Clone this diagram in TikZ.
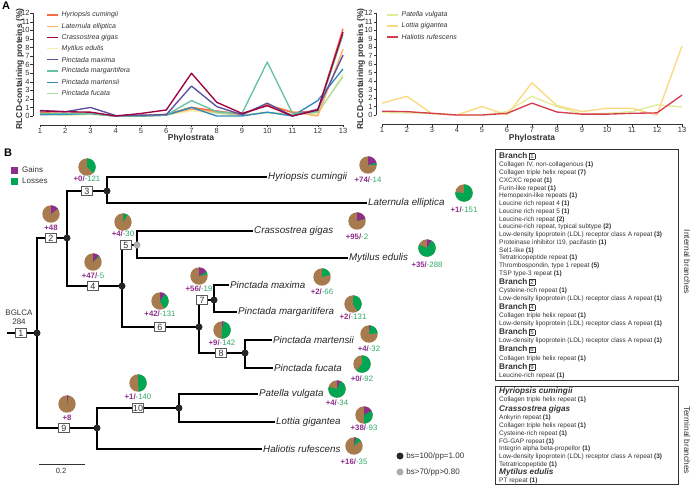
\documentclass[tikz,border=0pt]{standalone}
\usepackage{fontspec}
\setmainfont{Liberation Sans}
\usetikzlibrary{positioning}
\definecolor{gaincol}{HTML}{8E2D8C}
\definecolor{losscol}{HTML}{00A651}
\definecolor{losstxt}{HTML}{2FA866}
\definecolor{restcol}{HTML}{A87B4F}
\definecolor{txtgray}{HTML}{333333}
\definecolor{spHc}{HTML}{F46D43}
\definecolor{spLe}{HTML}{FDAE61}
\definecolor{spCg}{HTML}{9E0142}
\definecolor{spMe}{HTML}{F8EFA6}
\definecolor{spPx}{HTML}{5E4FA2}
\definecolor{spPg}{HTML}{66C2A5}
\definecolor{spPm}{HTML}{3288BD}
\definecolor{spPf}{HTML}{ABDDA4}
\definecolor{spPv}{HTML}{E3EC98}
\definecolor{spLg}{HTML}{FBD982}
\definecolor{spHr}{HTML}{D53E4F}
\newcommand{\gainloss}[2]{{\color{gaincol}\bfseries+#1/}{\color{losstxt}-#2}}
\newcommand{\gainonly}[1]{{\color{gaincol}\bfseries+#1}}
\newcommand{\brnum}[1]{{\setlength{\fboxsep}{0.5pt}\setlength{\fboxrule}{0.5pt}\fbox{\fontsize{6}{6}\selectfont\makebox[4.2pt]{#1}}}}
\newcommand{\brhead}[1]{{\fontsize{8.2}{8}\selectfont\bfseries Branch\,}\brnum{#1}}
\newcommand{\sphead}[1]{{\fontsize{8.2}{8}\selectfont\bfseries\itshape #1}}
\newcommand{\repcnt}[1]{\textbf{(#1)}}

\begin{document}
\begin{tikzpicture}[x=1pt,y=-1pt,
  ser/.style={line width=1.35pt, line join=round},
  axline/.style={line width=0.5pt, txtgray},
  ticklab/.style={font=\fontsize{7.5}{7.5}\selectfont, text=txtgray, inner sep=0.6pt},
  axtitle/.style={font=\fontsize{8.5}{8.5}\selectfont\bfseries, text=txtgray, inner sep=0pt},
  legtext/.style={font=\fontsize{7}{7}\selectfont\itshape, text=txtgray, inner sep=0pt},
  panlab/.style={font=\fontsize{11}{11}\selectfont\bfseries, inner sep=0pt},
  branch/.style={line width=1.7pt},
  bsdot/.style={circle, fill=black!85, inner sep=0pt, minimum size=7pt},
  ppdot/.style={circle, fill=gray!65, inner sep=0pt, minimum size=7pt},
  numbox/.style={draw=gray!70!black, fill=white, line width=0.6pt, inner sep=0pt,
    minimum width=11pt, minimum height=9pt, font=\fontsize{9}{9}\selectfont, text=txtgray},
  leaf/.style={anchor=west, inner sep=1pt, font=\fontsize{9.8}{9.8}\selectfont\itshape, text=black!85},
  pielab/.style={inner sep=0pt, font=\fontsize{7.8}{7.8}\selectfont},
  legsmall/.style={font=\fontsize{8}{8}\selectfont, text=txtgray, anchor=west, inner sep=0pt},
  panel/.style={draw=txtgray, line width=0.7pt},
  listbox/.style={align=left, anchor=north west, inner sep=0pt, text=txtgray,
    font=\fontsize{6.5}{7.75}\selectfont},
  sidelab/.style={font=\fontsize{8.3}{8.3}\selectfont, text=txtgray, rotate=-90, inner sep=0pt}]
\useasboundingbox (0,0) rectangle (690,488);

% ---- panel A, left chart
\node[panlab] (panA) at (6,6) {A};
\begin{scope}[shift={(14.75,116)}, x=25.25pt, y=8.56pt]
  \draw[axline] (0.72,0) -- (0.72,12);
  \foreach \v in {0,...,12}
    \draw[axline] (0.72,\v) -- ++(-2.5pt,0pt) node[left, ticklab] (ayl\v) {\v};
  \draw[axline] (1,-1.05) -- (13,-1.05);
  \foreach \k in {1,...,13}
    \draw[axline] (\k,-1.05) -- ++(0pt,-2.5pt) node[below, ticklab] (axl\k) {\k};
  \draw[ser, spMe] plot coordinates {(1,0.2) (2,0.1) (3,0.2) (4,0) (5,0) (6,0.1) (7,0.6) (8,0.3) (9,0.1) (10,0.4) (11,0.3) (12,0.2) (13,4.9)};
  \draw[ser, spPf] plot coordinates {(1,0.2) (2,0.15) (3,0.2) (4,0) (5,0) (6,0.1) (7,1.05) (8,0.35) (9,0.1) (10,0.4) (11,0.15) (12,0.4) (13,4.6)};
  \draw[ser, spLe] plot coordinates {(1,0.3) (2,0.3) (3,0.4) (4,0) (5,0.1) (6,0.2) (7,0.8) (8,0.5) (9,0.2) (10,1.3) (11,0.5) (12,0) (13,7.8)};
  \draw[ser, spHc] plot coordinates {(1,0.4) (2,0.3) (3,0.3) (4,0) (5,0) (6,0.2) (7,1.0) (8,0.6) (9,0.2) (10,1.3) (11,0.4) (12,0.6) (13,10.2)};
  \draw[ser, spPm] plot coordinates {(1,0.15) (2,0.2) (3,0.3) (4,0) (5,0) (6,0.1) (7,1.0) (8,0) (9,0) (10,0.45) (11,0) (12,1.8) (13,5.5)};
  \draw[ser, spPg] plot coordinates {(1,0.3) (2,0.3) (3,0.3) (4,0) (5,0) (6,0.1) (7,1.8) (8,0.5) (9,0.3) (10,6.3) (11,0.3) (12,0.5) (13,9.5)};
  \draw[ser, spPx] plot coordinates {(1,0.65) (2,0.5) (3,1.0) (4,0.05) (5,0.1) (6,0.15) (7,3.5) (8,1.1) (9,0.15) (10,1.5) (11,0) (12,0.8) (13,7.1)};
  \draw[ser, spCg] plot coordinates {(1,0.6) (2,0.5) (3,0.45) (4,0) (5,0.3) (6,0.7) (7,5.0) (8,1.6) (9,0.3) (10,1.2) (11,0) (12,0.7) (13,9.8)};
\end{scope}
\node[axtitle, rotate=90] (ytitA) at (20,69) {RLCD-containing proteins (\%)};
\node[axtitle] (xtitA) at (191,138.5) {Phylostrata};
\foreach \c/\t [count=\i] in {spHc/Hyriopsis cumingii, spLe/Laternula elliptica,
    spCg/Crassostrea gigas, spMe/Mytilus edulis, spPx/Pinctada maxima,
    spPg/Pinctada margaritifera, spPm/Pinctada martensii, spPf/Pinctada fucata}
  \draw[ser, \c] (47,{15+11.2*(\i-1)}) -- (58,{15+11.2*(\i-1)})
    node[legtext, right=3pt] (legA\i) {\t};

% ---- panel A, right chart
\begin{scope}[shift={(357,115)}, x=25pt, y=8.47pt]
  \draw[axline] (0.76,0) -- (0.76,12);
  \foreach \v in {0,...,12}
    \draw[axline] (0.76,\v) -- ++(-2.5pt,0pt) node[left, ticklab] (byl\v) {\v};
  \draw[axline] (1,-1.1) -- (13,-1.1);
  \foreach \k in {1,...,13}
    \draw[axline] (\k,-1.1) -- ++(0pt,-2.5pt) node[below, ticklab] (bxl\k) {\k};
  \draw[ser, spPv] plot coordinates {(1,0.3) (2,0.25) (3,0.2) (4,0) (5,0) (6,0.4) (7,2.2) (8,1.0) (9,0.1) (10,0.2) (11,0.4) (12,1.2) (13,0.95)};
  \draw[ser, spLg] plot coordinates {(1,1.4) (2,2.2) (3,0.15) (4,0) (5,1.0) (6,0) (7,3.8) (8,1.1) (9,0.4) (10,0.8) (11,0.8) (12,0) (13,8.15)};
  \draw[ser, spHr] plot coordinates {(1,0.45) (2,0.4) (3,0.2) (4,0) (5,0) (6,0.2) (7,1.4) (8,0.35) (9,0.1) (10,0.1) (11,0.2) (12,0.25) (13,2.35)};
\end{scope}
\node[axtitle, rotate=90] (ytitB) at (361,69) {RLCD-containing proteins (\%)};
\node[axtitle] (xtitB) at (532,138.5) {Phylostrata};
\foreach \c/\t [count=\i] in {spPv/Patella vulgata, spLg/Lottia gigantea, spHr/Haliotis rufescens}
  \draw[ser, \c] (387,{15+11*(\i-1)}) -- (398,{15+11*(\i-1)})
    node[legtext, right=3pt] (legB\i) {\t};

% ---- panel B, tree
\node[panlab] (panB) at (8,153) {B};
\fill[gaincol] (11,166.5) rectangle ++(7,7);
\fill[losscol] (11,177.5) rectangle ++(7,7);
\node[legsmall] (keygain) at (22,170) {Gains};
\node[legsmall] (keyloss) at (22,181) {Losses};

\coordinate (root) at (7,333);
\coordinate (n1) at (37,333);
\coordinate (n2) at (67,238);
\coordinate (n3) at (107,191);
\coordinate (n4) at (122,286);
\coordinate (n5) at (137,245);
\coordinate (n6) at (199,327);
\coordinate (n7) at (214,300);
\coordinate (n8) at (245,353);
\coordinate (n9) at (97,428);
\coordinate (n10) at (179,408);

\node[leaf] (hcum) at (267,177) {Hyriopsis cumingii};
\node[leaf] (lell) at (367,203) {Laternula elliptica};
\node[leaf] (cgig) at (253,231) {Crassostrea gigas};
\node[leaf] (medu) at (348,258) {Mytilus edulis};
\node[leaf] (pmax) at (229,285) {Pinctada maxima};
\node[leaf] (pmar) at (237,312) {Pinctada margaritifera};
\node[leaf] (pmrt) at (272,340) {Pinctada martensii};
\node[leaf] (pfuc) at (273,368) {Pinctada fucata};
\node[leaf] (pvul) at (258,394) {Patella vulgata};
\node[leaf] (lgig) at (275,422) {Lottia gigantea};
\node[leaf] (hruf) at (262,449) {Haliotis rufescens};

\draw[branch] (root) -- (n1);
\draw[branch] (n1) |- (n2);
\draw[branch] (n1) |- (n9);
\draw[branch] (n2) |- (n3);
\draw[branch] (n2) |- (n4);
\draw[branch] (n3) |- (hcum.west);
\draw[branch] (n3) |- (lell.west);
\draw[branch] (n4) |- (n5);
\draw[branch] (n4) |- (n6);
\draw[branch] (n5) |- (cgig.west);
\draw[branch] (n5) |- (medu.west);
\draw[branch] (n6) |- (n7);
\draw[branch] (n6) |- (n8);
\draw[branch] (n7) |- (pmax.west);
\draw[branch] (n7) |- (pmar.west);
\draw[branch] (n8) |- (pmrt.west);
\draw[branch] (n8) |- (pfuc.west);
\draw[branch] (n9) |- (n10);
\draw[branch] (n9) |- (hruf.west);
\draw[branch] (n10) |- (pvul.west);
\draw[branch] (n10) |- (lgig.west);

\foreach \n in {1,2,3,4,6,7,8,9,10}
  \node[bsdot] (dot\n) at (n\n) {};
\node[ppdot] (dot5) at (n5) {};

\foreach \n/\x/\y in {1/21/333, 2/51/238, 3/87/191, 4/93/286, 5/126/245,
    6/160/327, 7/202/300, 8/221/353, 9/64/428, 10/138/408}
  \node[numbox] (box\n) at (\x,\y) {\n};

\node[legsmall, anchor=center, align=center, font=\fontsize{8}{9.5}\selectfont] (bglca) at (19,317) {BGLCA\\284};

% gains / losses pies
\foreach \px/\py/\gf/\lf/\ly/\txt [count=\i] in {
    51/214/14.5/0.01/228/{\gainonly{48}},
    87/167/0.01/37/179/{\gainloss{0}{121}},
    93/262/12.4/1.3/276/{\gainloss{47}{5}},
    123/222/1/8/234/{\gainloss{4}{30}},
    160/301/10/31.5/314/{\gainloss{42}{131}},
    199/276/16.4/5.6/289/{\gainloss{56}{19}},
    222/330/3/48/343/{\gainloss{9}{142}},
    67/404/2.7/0.01/418/{\gainonly{8}},
    138/383/0.5/48/397/{\gainloss{1}{140}},
    368/165/21/4.5/180/{\gainloss{74}{14}},
    464/193/0.5/76/210/{\gainloss{1}{151}},
    357/221/21/0.5/237/{\gainloss{95}{2}},
    427/248/9/72/265/{\gainloss{35}{288}},
    322/277/0.6/20/292/{\gainloss{2}{66}},
    353/304/0.6/40/317/{\gainloss{2}{131}},
    369/334/2.5/21/349/{\gainloss{4}{32}},
    362/364/0.01/61/379/{\gainloss{0}{92}},
    337/389/7/72/403/{\gainloss{4}{34}},
    364/415/17/33/428/{\gainloss{38}{93}},
    354/446/4/10/462/{\gainloss{16}{35}}} {
  \fill[restcol] (\px,\py) circle (8.7pt);
  \fill[gaincol] (\px,\py) -- ++(90:8.7pt)
    arc[start angle=90, delta angle={-3.6*\gf}, radius=8.7pt] -- cycle;
  \fill[losscol] (\px,\py) -- ++({90-3.6*\gf}:8.7pt)
    arc[start angle={90-3.6*\gf}, delta angle={-3.6*\lf}, radius=8.7pt] -- cycle;
  \node[pielab] (pie\i) at (\px,\ly) {\txt};
}

% scale bar and support key
\draw[line width=1pt, txtgray] (39,464) -- (85,464);
\node[legsmall, anchor=center, font=\fontsize{7.5}{7.5}\selectfont] (scalelab) at (61,471) {0.2};
\node[bsdot] (keybs) at (400,456) {};
\node[legsmall, right=2.5pt of keybs] (keybstxt) {bs=100/pp=1.00};
\node[ppdot] (keypp) at (400,472) {};
\node[legsmall, right=2.5pt of keypp] (keypptxt) {bs>70/pp>0.80};

% ---- domain lists
\draw[panel] (495,149) rectangle (678,380);
\draw[panel] (495,386) rectangle (678,484);
\node[listbox] (intlist) at (499,152.4) {%
  \brhead{1}\\[0.55pt]
  Collagen IV, non-collagenous \repcnt{1}\\
  Collagen triple helix repeat \repcnt{7}\\
  CXCXC repeat \repcnt{1}\\
  Furin-like repeat \repcnt{1}\\
  Hemopexin-like repeats \repcnt{1}\\
  Leucine rich repeat 4 \repcnt{1}\\
  Leucine rich repeat 5 \repcnt{1}\\
  Leucine-rich repeat \repcnt{2}\\
  Leucine-rich repeat, typical subtype \repcnt{2}\\
  Low-density lipoprotein (LDL) receptor class A repeat \repcnt{3}\\
  Proteinase inhibitor I19, pacifastin \repcnt{1}\\
  Sel1-like \repcnt{1}\\
  Tetratricopeptide repeat \repcnt{1}\\
  Thrombospondin, type 1 repeat \repcnt{5}\\
  TSP type-3 repeat \repcnt{1}\\[1.25pt]
  \brhead{2}\\[0.55pt]
  Cysteine-rich repeat \repcnt{1}\\
  Low-density lipoprotein (LDL) receptor class A repeat \repcnt{1}\\[1.25pt]
  \brhead{4}\\[0.55pt]
  Collagen triple helix repeat \repcnt{1}\\
  Low-density lipoprotein (LDL) receptor class A repeat \repcnt{1}\\[1.25pt]
  \brhead{5}\\[0.55pt]
  Low-density lipoprotein (LDL) receptor class A repeat \repcnt{1}\\[1.25pt]
  \brhead{6}\\[0.55pt]
  Collagen triple helix repeat \repcnt{1}\\[1.25pt]
  \brhead{9}\\[0.55pt]
  Leucine-rich repeat \repcnt{1}};
\node[listbox] (termlist) at (499,387.7) {%
  \sphead{Hyriopsis cumingii}\\[0pt]
  Collagen triple helix repeat \repcnt{1}\\[2.2pt]
  \sphead{Crassostrea gigas}\\[0.6pt]
  Ankyrin repeat \repcnt{1}\\
  Collagen triple helix repeat \repcnt{1}\\
  Cysteine-rich repeat \repcnt{1}\\
  FG-GAP repeat \repcnt{1}\\
  Integrin alpha beta-propellor \repcnt{1}\\
  Low-density lipoprotein (LDL) receptor class A repeat \repcnt{3}\\
  Tetratricopeptide \repcnt{1}\\[0.3pt]
  \sphead{Mytilus edulis}\\[0.3pt]
  PT repeat \repcnt{1}};
\node[sidelab] (intlab) at (687,262) {Internal branches};
\node[sidelab] (termlab) at (687,440) {Terminal branches};
\end{tikzpicture}
\end{document}
